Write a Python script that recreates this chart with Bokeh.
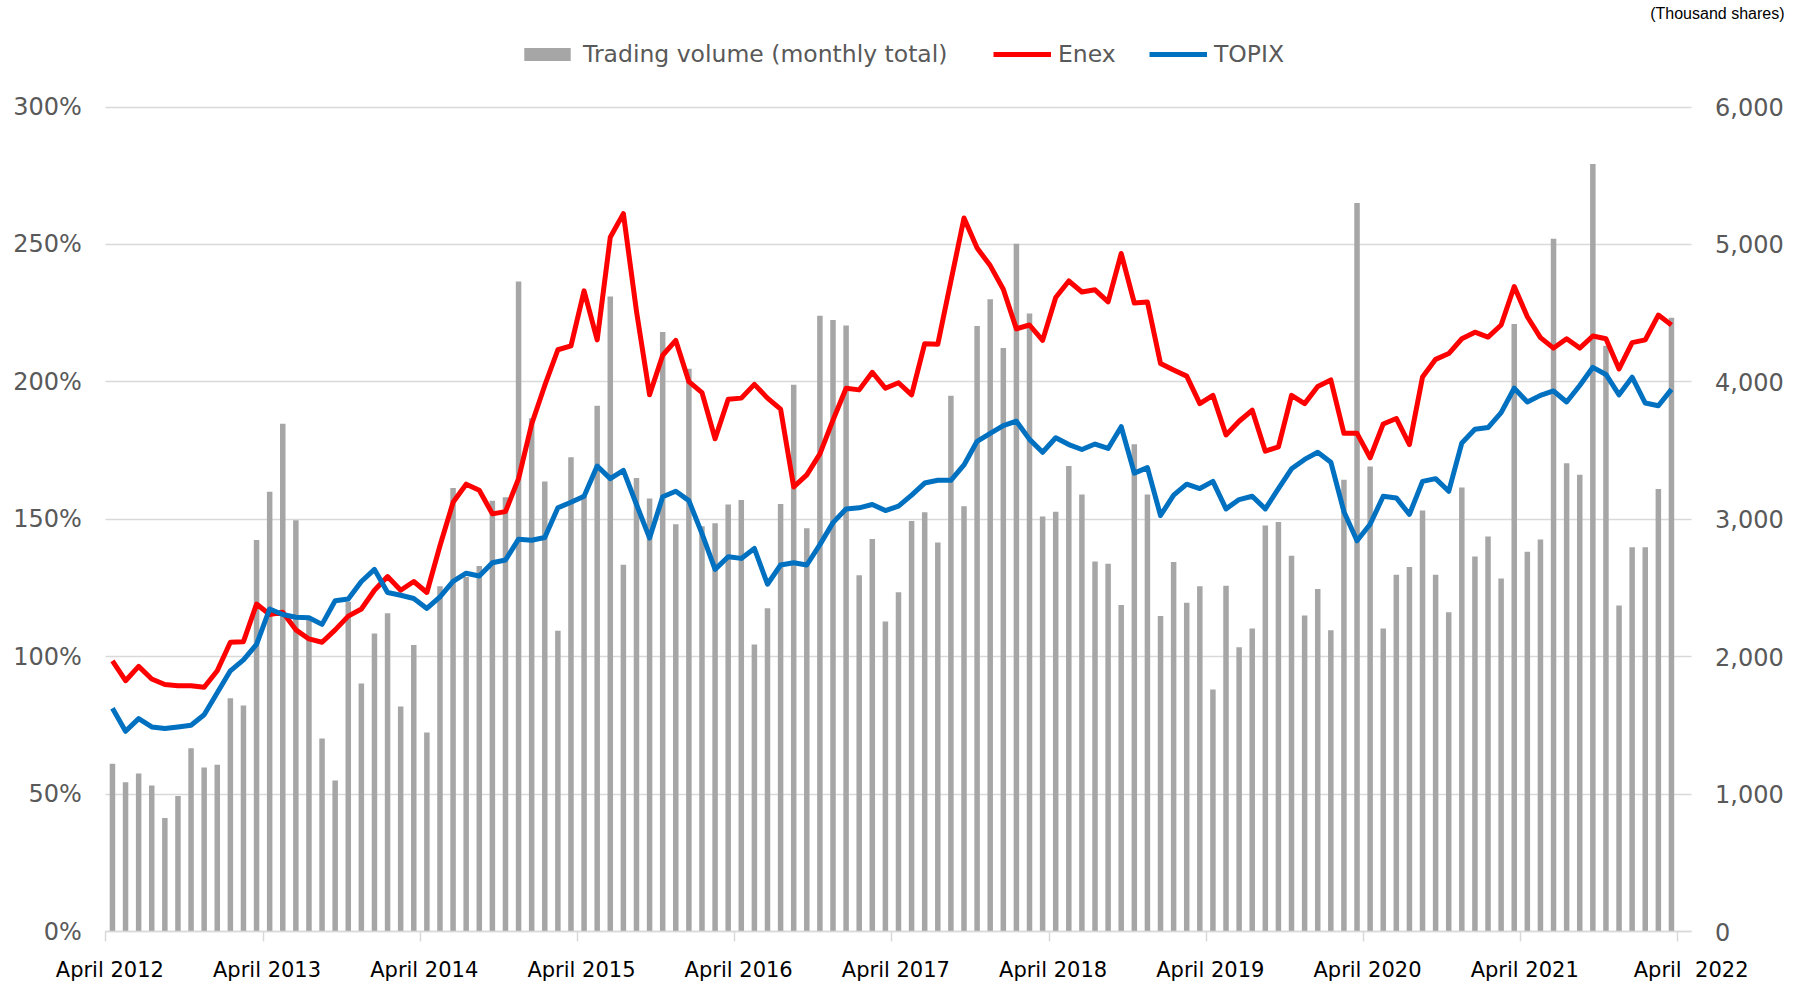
from bokeh.plotting import figure
from bokeh.models import Range1d, LinearAxis, FixedTicker, Legend, LegendItem, Label
from bokeh.embed import file_html
from bokeh.resources import INLINE

# Monthly data, April 2012 - March 2022
volume = [1222, 1087, 1151, 1063, 827, 987, 1334, 1195, 1215, 1698,
          1646, 2849, 3200, 3696, 2993, 2270, 1406, 1100, 2400, 1806,
          2169, 2317, 1638, 2085, 1450, 2513, 3228, 2580, 2661, 3136,
          3160, 4730, 3735, 3276, 2189, 3452, 3180, 3827, 4622, 2669,
          3300, 3152, 4363, 2965, 4095, 2950, 2972, 3108, 3140, 2089,
          2353, 3112, 3979, 2936, 4482, 4450, 4410, 2593, 2857, 2257,
          2469, 2988, 3052, 2832, 3899, 3096, 4406, 4602, 4246, 5005,
          4498, 3020, 3056, 3388, 3180, 2693, 2677, 2377, 3547, 3180,
          2297, 2689, 2393, 2513, 1762, 2517, 2069, 2205, 2956, 2980,
          2736, 2301, 2493, 2193, 3288, 5301, 3384, 2205, 2597, 2653,
          3064, 2597, 2325, 3232, 2729, 2876, 2569, 4422, 2765, 2853,
          5042, 3408, 3324, 5585, 4263, 2373, 2797, 2797, 3220, 4466]

enex = [98.5, 91.3, 96.5, 91.9, 89.9, 89.5, 89.5, 88.9, 94.9, 105.3,
        105.5, 119.2, 115.4, 116.2, 109.8, 106.5, 105.3, 109.8, 114.8, 117.4,
        124.2, 129.2, 124.2, 127.4, 123.4, 140.4, 156.2, 162.8, 160.6, 152.0,
        152.8, 164.8, 184.7, 198.7, 211.7, 213.1, 233.1, 215.3, 252.6, 261.2,
        225.7, 195.3, 209.7, 215.1, 200.1, 196.1, 179.3, 193.7, 194.1, 199.1,
        194.1, 190.1, 161.8, 166.2, 173.8, 186.1, 197.7, 197.1, 203.5, 197.7,
        199.7, 195.3, 213.9, 213.7, 236.7, 259.6, 248.7, 242.3, 233.7, 219.3,
        220.7, 215.1, 230.7, 236.7, 232.7, 233.5, 229.1, 246.7, 228.7, 229.1,
        206.7, 204.3, 202.1, 192.1, 195.1, 180.7, 185.7, 189.7, 174.8, 176.4,
        195.1, 192.1, 198.3, 200.7, 181.3, 181.3, 172.4, 184.7, 186.7, 177.2,
        201.8, 208.2, 210.3, 215.7, 218.1, 216.3, 220.7, 234.7, 223.7, 216.1,
        212.3, 215.7, 212.3, 216.7, 215.7, 204.7, 214.3, 215.3, 224.3, 220.7]

topix = [81.3, 72.9, 77.5, 74.5, 73.9, 74.5, 75.1, 78.9, 86.9, 94.9,
         98.9, 104.5, 117.4, 115.4, 114.4, 114.2, 111.8, 120.4, 121.0, 127.4,
         131.8, 123.4, 122.4, 121.2, 117.6, 121.8, 127.4, 130.4, 129.4, 134.2,
         135.2, 142.8, 142.4, 143.4, 154.2, 156.2, 158.4, 169.4, 164.8, 167.8,
         155.4, 143.2, 158.2, 160.2, 156.8, 144.8, 131.8, 136.4, 135.8, 139.4,
         126.4, 133.4, 134.2, 133.4, 140.8, 148.8, 153.8, 154.2, 155.4, 153.2,
         154.8, 158.8, 163.2, 164.2, 164.2, 169.8, 178.4, 181.3, 184.1, 185.7,
         179.1, 174.4, 179.7, 177.2, 175.4, 177.4, 175.8, 183.7, 166.8, 168.8,
         151.4, 158.8, 162.8, 161.2, 163.8, 153.8, 157.2, 158.4, 153.8, 161.2,
         168.4, 171.8, 174.4, 170.8, 152.8, 142.2, 148.2, 158.4, 157.8, 151.8,
         163.8, 164.8, 160.2, 177.8, 182.8, 183.4, 188.8, 197.7, 192.7, 195.1,
         196.7, 192.7, 198.7, 205.3, 202.7, 195.3, 201.7, 192.3, 191.3, 197.3]

year_labels = ["April 2012", "April 2013", "April 2014", "April 2015", "April 2016",
               "April 2017", "April 2018", "April 2019", "April 2020", "April 2021"]
last_label = "April\u00a0 2022"
left_ticks = [0, 50, 100, 150, 200, 250, 300]
left_labels = ["0%", "50%", "100%", "150%", "200%", "250%", "300%"]
right_ticks = [0, 1000, 2000, 3000, 4000, 5000, 6000]
right_labels = ["0", "1,000", "2,000", "3,000", "4,000", "5,000", "6,000"]

n_cat = len(volume) + 1  # axis spans April 2012 .. April 2022
xs = list(range(len(volume)))

GRAY_TXT = "#595959"
GRID = "#D9D9D9"
FONT = "DejaVu Sans"

# page geometry (the frame covers the whole canvas; the plot box sits inside it)
W, H = 1796, 984
LEFT_PX, RIGHT_PX = 105.4, 1690.6       # pixel columns of the category axis ends
TOP_PX, ZERO_PX = 106.5, 931.2          # pixel rows of 300% and 0%
X0, X1 = -0.5, n_cat - 0.5
PXM = (RIGHT_PX - LEFT_PX) / (X1 - X0)
x_lo = X0 - LEFT_PX / PXM
x_hi = X1 + (W - RIGHT_PX) / PXM
PX_PER = (ZERO_PX - TOP_PX) / 300.0
y_lo = -(H - ZERO_PX) / PX_PER
y_hi = 300 + TOP_PX / PX_PER
VOL_K = 6000 / 300.0

p = figure(width=W, height=H, x_range=Range1d(x_lo, x_hi), y_range=Range1d(y_lo, y_hi),
           output_backend="svg", toolbar_location=None,
           min_border_left=0, min_border_right=0, min_border_top=0, min_border_bottom=0)
p.outline_line_color = None
p.background_fill_color = "white"
p.border_fill_color = "white"
p.xgrid.visible = False

grid = p.ygrid[0]
grid.ticker = FixedTicker(ticks=left_ticks)
grid.grid_line_color = GRID
grid.grid_line_width = 1.5
use_cross = "cross_bounds" in grid.properties()
if use_cross:
    grid.cross_bounds = (X0, X1)
else:
    grid.visible = False

p.extra_y_ranges = {"vol": Range1d(y_lo * VOL_K, y_hi * VOL_K)}

bars = p.vbar(x=xs, top=volume, bottom=0, width=0.42, y_range_name="vol",
              fill_color="#A6A6A6", line_color=None)
r_enex = p.line(xs, enex, line_width=5, line_color="#FF0000", line_join="round")
r_topix = p.line(xs, topix, line_width=5, line_color="#0070C0", line_join="round")

# left axis
ya = p.yaxis[0]
ya.fixed_location = X0
ya.bounds = (0, 300)
ya.ticker = FixedTicker(ticks=left_ticks)
ya.major_label_overrides = {t: s for t, s in zip(left_ticks, left_labels)}
ya.axis_line_color = None
ya.minor_tick_line_color = None
ya.major_tick_out = 0
if use_cross:
    ya.major_tick_line_color = None
    ya.major_tick_in = 0
else:
    ya.major_tick_line_color = GRID
    ya.major_tick_line_width = 1.5
    ya.major_tick_in = int(round(RIGHT_PX - LEFT_PX))
ya.major_label_standoff = 24
ya.major_label_text_font = FONT
ya.major_label_text_font_size = "24px"
ya.major_label_text_color = GRAY_TXT

# right axis
ra = LinearAxis(y_range_name="vol", fixed_location=X1, ticker=FixedTicker(ticks=right_ticks))
ra.major_label_overrides = {t: s for t, s in zip(right_ticks, right_labels)}
ra.axis_line_color = None
ra.major_tick_line_color = None
ra.minor_tick_line_color = None
ra.major_tick_out = 0
ra.major_tick_in = 0
ra.major_label_standoff = 24
ra.major_label_text_font = FONT
ra.major_label_text_font_size = "24px"
ra.major_label_text_color = GRAY_TXT
p.add_layout(ra, "right")

# bottom axis: line and tick marks at the zero line
tick_pos = [X0 + 12 * k for k in range(len(year_labels) + 1)]
xa = p.xaxis[0]
xa.fixed_location = 0
xa.bounds = (X0, X1)
xa.ticker = FixedTicker(ticks=tick_pos)
xa.major_label_overrides = {t: "" for t in tick_pos}
xa.major_label_text_font_size = "1px"
xa.axis_line_color = GRID
xa.axis_line_width = 1.5
xa.major_tick_line_color = GRID
xa.major_tick_line_width = 1.5
xa.major_tick_out = 10
xa.major_tick_in = 0
xa.minor_tick_line_color = None

# bottom axis labels
label_pos = [t + 0.3 for t in tick_pos[:-1]] + [X1]
label_txt = year_labels + [last_label]
la = LinearAxis(fixed_location=0, ticker=FixedTicker(ticks=label_pos))
la.major_label_overrides = {t: s for t, s in zip(label_pos, label_txt)}
la.axis_line_color = None
la.major_tick_line_color = None
la.minor_tick_line_color = None
la.major_tick_out = 0
la.major_tick_in = 0
la.major_label_standoff = 26
la.major_label_text_font = FONT
la.major_label_text_font_size = "21px"
la.major_label_text_color = "black"
p.add_layout(la, "below")

p.add_layout(Label(x=1784, y=H - 13, x_units="screen", y_units="screen", text="(Thousand shares)",
                   text_align="right", text_baseline="middle", text_font="Liberation Sans",
                   text_font_size="16px", text_color="black"))

legend_specs = [("Trading volume (monthly total)", bars, 518),
                ("Enex", r_enex, 993),
                ("TOPIX", r_topix, 1149)]
for label, rend, lx in legend_specs:
    lg = Legend(items=[LegendItem(label=label, renderers=[rend])], location=(lx, H - 68),
                orientation="horizontal", glyph_width=58, glyph_height=16, label_standoff=7,
                padding=0, margin=0, border_line_alpha=0, background_fill_alpha=0,
                label_text_font=FONT, label_text_font_size="23.5px", label_text_color=GRAY_TXT)
    p.add_layout(lg)

open("out.html", "w").write(file_html(p, INLINE))
